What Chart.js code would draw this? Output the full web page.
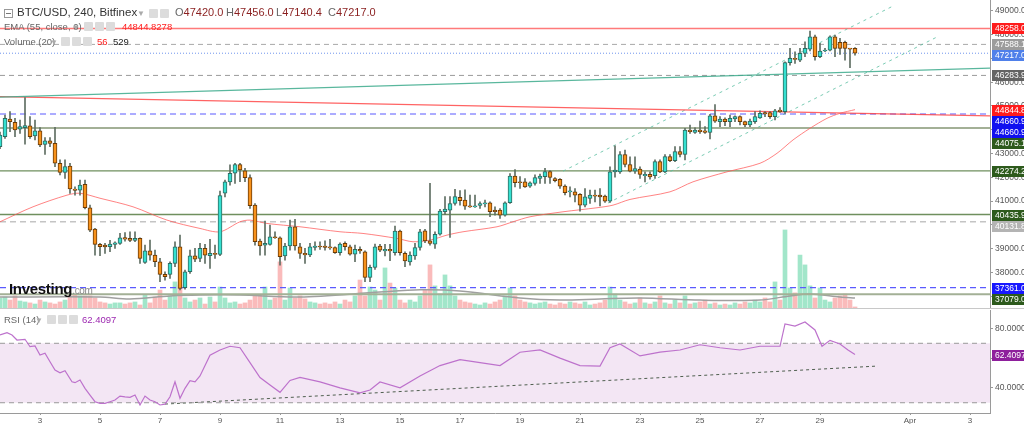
<!DOCTYPE html>
<html>
<head>
<meta charset="utf-8">
<script src="https://cdn.jsdelivr.net/npm/chart.js@4.4.0/dist/chart.umd.min.js"></script>
<style>
  body { margin:0; width:1024px; height:424px; overflow:hidden; background:#fff; position:relative; font-family:"Liberation Sans", Arial, sans-serif; }
  canvas { position:absolute; left:0; }
  #main { top:0; }
  #rsi { top:308px; }
  .ov { position:absolute; white-space:nowrap; line-height:12px; z-index:2; }
  .ico { position:absolute; width:9px; height:9px; background:#dcdcdc; border-radius:1px; z-index:2; }
  .dd { position:absolute; font-size:8px; color:#aaa; z-index:2; }
</style>
</head>
<body>
<canvas id="main" width="1024" height="308"></canvas>
<canvas id="rsi" width="1024" height="116"></canvas>

<!-- header -->
<div class="ov" style="left:4px;top:9px;width:7px;height:7px;border:1px solid #999;"></div>
<div class="ov" style="left:6px;top:13px;width:5px;height:1px;background:#777;"></div>
<div class="ov" style="left:17px;top:6px;font-size:11.5px;color:#333;">BTC/USD, 240, Bitfinex</div>
<div class="dd" style="left:137px;top:9px;">▼</div>
<div class="ico" style="left:149px;top:9px;"></div>
<div class="ico" style="left:160px;top:9px;"></div>
<div class="ov" style="left:175px;top:6px;font-size:11px;"><span style="color:#666">O</span><span style="color:#8a1f1f">47420.0</span></div>
<div class="ov" style="left:226px;top:6px;font-size:11px;"><span style="color:#666">H</span><span style="color:#8a1f1f">47456.0</span></div>
<div class="ov" style="left:276px;top:6px;font-size:11px;"><span style="color:#666">L</span><span style="color:#8a1f1f">47140.4</span></div>
<div class="ov" style="left:328px;top:6px;font-size:11px;"><span style="color:#666">C</span><span style="color:#8a1f1f">47217.0</span></div>

<div class="ov" style="left:4px;top:21px;font-size:9.5px;color:#666;">EMA (55, close, 0)</div>
<div class="dd" style="left:72px;top:23px;">▼</div>
<div class="ico" style="left:84px;top:22px;"></div>
<div class="ico" style="left:95px;top:22px;"></div>
<div class="ico" style="left:106px;top:22px;"></div>
<div class="ov" style="left:122px;top:21px;font-size:9.5px;color:#ff2020;">44844.8278</div>

<div class="ov" style="left:4px;top:36px;font-size:9.5px;color:#666;">Volume (20)</div>
<div class="dd" style="left:50px;top:38px;">▼</div>
<div class="ico" style="left:61px;top:37px;"></div>
<div class="ico" style="left:72px;top:37px;"></div>
<div class="ico" style="left:83px;top:37px;"></div>
<div class="ov" style="left:97px;top:36px;font-size:9.5px;color:#ff2020;">56</div>
<div class="ov" style="left:113px;top:36px;font-size:9.5px;color:#222;">529</div>

<div class="ov" style="left:9px;top:283px;font-size:15px;font-weight:bold;color:#111;letter-spacing:-0.3px;">Investing<span style="font-size:10px;font-weight:normal;color:#888;">.com</span></div>

<div class="ov" style="left:4px;top:314px;font-size:9.5px;color:#666;">RSI (14)</div>
<div class="dd" style="left:35px;top:316px;">▼</div>
<div class="ico" style="left:47px;top:315px;"></div>
<div class="ico" style="left:58px;top:315px;"></div>
<div class="ico" style="left:69px;top:315px;"></div>
<div class="ov" style="left:82px;top:314px;font-size:9.5px;color:#9c27b0;">62.4097</div>

<script>
// BTC/USD 4h candles, first candle Mar 1 16:00
const opens  = [43290,43710,44450,44310,44020,44090,44160,43740,43950,43380,43530,43430,42590,42210,42470,41510,41460,41700,40720,39820,
                39180,39150,39080,39180,39220,39470,39430,39350,39430,38420,38910,38730,38450,37920,37920,38380,39080,37360,38030,38700,
                38590,39010,38700,38800,38760,41330,41810,42170,42540,42270,41990,40830,39320,39150,39180,39500,39460,38690,39110,39920,
                39080,38800,38740,39050,39110,39110,39080,39050,38830,39220,39080,38770,38970,38870,37790,38210,39110,38910,38970,38830,
                39740,38800,38440,38690,39050,39750,39330,39190,39610,40550,40620,40900,41160,41040,40790,40760,40820,40880,40930,40620,
                40620,40410,40930,42050,41810,41810,41630,41740,41950,42030,42240,41950,41910,41630,41390,41390,41280,40830,41110,41250,
                41250,41210,41000,42230,42230,42960,42540,42260,42350,42070,42120,42070,42660,42230,42870,42700,43080,42960,43990,43890,
                43990,43950,43890,44590,44340,44450,44340,44450,44550,44340,44200,44340,44500,44720,44720,44550,44830,44760,46820,47000,
                46930,47210,47390,47910,47070,47310,47350,47910,47680,47680,47420,47420];
const highs  = [43900,44620,44760,44480,44410,45350,44550,44410,44090,43670,43670,44100,42730,42730,42590,41600,41880,41880,40830,39850,
                39220,39220,39350,39290,39640,39680,39710,39710,39460,39150,39360,38940,38590,38030,38450,39290,39570,38100,38940,39010,
                39220,39180,39390,39150,41420,41880,42520,42590,42590,42380,42100,40900,39400,40160,39990,39710,39500,39220,40200,40230,
                39220,39010,39220,39290,39290,39330,39390,39080,39250,39290,39150,39150,39080,38910,38310,39190,39180,39180,39180,39950,
                39780,38870,38870,39220,39810,39810,41750,39710,40650,41190,41190,41490,41440,41470,41250,41250,40970,41040,40970,40760,
                40690,40970,42160,42330,42030,41950,41810,42100,42140,42380,42280,41990,41950,41680,41600,41530,41320,41530,41460,41460,
                41530,41250,42440,43320,43080,43140,42860,42860,42440,42230,42230,42730,42730,42960,42960,43290,43290,44060,44200,44080,
                44360,44130,44650,45060,44550,44500,44620,44590,44590,44360,44450,44760,44790,44760,44760,44860,44930,46860,47420,47280,
                47420,47700,48150,47980,47630,47420,47950,47980,47840,47730,47420,47456];
const lows   = [43200,43640,43920,43710,43850,43390,43640,43570,43290,42960,43290,42450,42100,41950,41320,41250,41250,40670,39710,38730,
                38700,38800,38870,39010,39180,39320,39290,39290,38380,38380,38520,38240,37610,37680,37750,38240,37260,37300,37960,38450,
                38450,38380,38170,38590,38700,41180,41670,41740,41820,41820,40690,39150,38730,38730,39150,39430,38310,38520,38940,38940,
                38590,38380,38660,38940,38970,38940,38970,38800,38730,38940,38730,38450,38800,37610,37610,38130,38870,38690,38490,38730,
                38730,38240,38310,38550,38940,39250,39150,39010,39570,40440,39470,40830,40830,40650,40730,40730,40690,40760,40340,40410,
                40270,40370,40900,41600,41530,41580,41580,41670,41740,41740,41740,41810,41530,41260,41180,40970,40580,40760,40900,40970,
                40800,40940,40940,42010,42160,42440,42230,42160,41950,41810,41920,41950,42200,42200,42660,42660,42860,42730,43850,43850,
                43850,43850,43610,44310,44130,44170,44130,44340,44200,44130,44130,44270,44480,44550,44480,44410,44730,44690,46720,46790,
                46860,47070,47310,46930,47030,47280,47310,47070,47170,46930,46610,47140.4];
const closes = [43780,44480,44340,43990,44130,44170,43710,43950,43360,43530,43430,42590,42210,42450,41510,41450,41670,40720,39780,39180,
                39080,39070,39190,39240,39460,39400,39350,39430,38590,38910,38730,38450,37920,37820,38380,39080,37330,38030,38700,38560,
                39010,38730,38800,38760,41230,41810,42170,42540,42310,41990,40810,39290,39120,39220,39500,39460,38660,39110,39920,39110,
                38800,38740,39080,39110,39070,39050,39030,38830,39190,39080,38770,38970,38900,37790,38210,39080,38940,38970,38910,39740,
                38830,38480,38730,39050,39710,39330,39220,39600,40580,40660,40900,41190,41020,40790,40760,40790,40900,40930,40550,40550,
                40410,40930,42050,41770,41770,41600,41770,41990,42050,42240,42000,41860,41630,41350,41430,41250,40830,41180,41250,41210,
                41180,41000,42230,42300,42960,42540,42260,42370,42120,42120,42020,42660,42230,42870,42700,43080,42960,43990,43920,43990,
                43920,43890,44590,44360,44450,44340,44480,44550,44340,44200,44360,44550,44690,44670,44550,44790,44760,46820,47000,46960,
                47210,47420,47910,47070,47310,47350,47910,47420,47420,47420,47390,47217.0];
const volumes = [530,580,420,640,370, 320,270,210,420,320, 270,210,320,420,640, 690,640,640,640,530,
                 320,270,210,270,270, 210,270,320,160,690, 270,580,950,420,640, 1380,1220,530,320,420,
                 530,210,580,320,1110, 530,270,320,210,270, 420,640,690,1110,420, 530,2440,420,1060,530,
                 640,480,320,270,210, 270,210,320,210,420, 320,640,1480,640,1110, 950,420,2120,1320,1060,
                 420,270,420,320,640, 950,2280,1170,740,1750, 1170,640,420,320,270, 210,160,270,210,320,
                 420,640,1060,640,420, 320,270,210,270,320, 210,160,270,210,320, 270,210,320,160,210,
                 270,420,1110,740,420, 320,210,270,530,270, 210,320,640,270,210, 420,270,640,210,270,
                 320,420,210,270,160, 210,160,270,210,320, 270,420,320,530,320, 1380,420,4130,1060,800,
                 2800,2280,1170,530,1060, 420,320,530,640,740, 420,56];

// Volume MA(20), read at a few candles
const volMaIdx = [0,20,26,34,40,48,60,76,84,92,104,112,120,128,140,152,158,162,168,171];
const volMaVal = [580,580,480,640,690,690,580,850,960,900,530,420,480,530,420,420,640,740,580,529];

// EMA(55)
const emaIdx = [0,6.6,13.4,16,20,26.6,33.4,40,44,48,50,53.4,60,68,72.6,79.4,82.6,86,89.4,92.6,99.4,102.6,106,112.6,119.4,122.6,126,134,138.6,145.4,152,155.4,158.6,162,165.4,168,171];
const emaVal = [40130,40760,41250,41330,41120,40760,40200,39850,39710,40130,40200,40060,39920,39710,39640,39430,39290,39360,39570,39710,39920,40130,40340,40550,40720,40830,41070,41390,41810,42230,42590,43010,43570,44060,44480,44690,44845];

// RSI(14)
const rsiIdx = [0,1.4,2.4,3.4,5,6,7,8,9,10,11,12,13,14.4,15,16,17,18,19,20,21,22,23,24,25,26,27,28,29,30,31,32,33,34,35,36,37,38,39,40,
                42,44,46,48,50,52,54,56,58,60,64,68,72,74,76,80,84,88,92,96,100,104,108,112,116,120,122,124,128,132,136,140,144,148,152,156,157,159,161,163,164.4,166,168,169.6,171];
const rsiVal = [75.6,77.1,75.6,72.2,72.7,67.7,68.2,62.1,63.3,57.6,52,50.2,51.6,44.1,43.5,45.3,39.7,35.2,30.7,29.6,29.6,30.7,31.8,34.5,34,33.6,35.2,28.5,34.5,31.8,30.7,28.5,29.1,34,44.1,33,39.7,44.8,44.1,48,
                62,65.5,68,67,57,47,42,37,45,47,44,40,36.6,38.6,44,40,48,55,59,57,55,64,65.5,60,55,54.7,67,69.5,61.5,64,65.5,69,67,65.5,68,68,83,81.6,84.3,79,68,72,69.5,65.5,62.4097];

// horizontal levels
const levelValues = [48258.0, 47588.1, 47217.0, 46283.9, 44660.9, 44075.1, 42274.2, 40435.9, 40131.8, 37361.0, 37079.0];
const levelColors = ['#ff7a7a','#a8a8a8','#6f95ee','#9a9a9a','#5a5aff','#a3b096','#6f8f5e','#6f8f5e','#c4c4c4','#5a5aff','#a3b096'];
const levelDashes = [[],[5,4],[1,2],[5,4],[6,4],[],[],[],[6,4],[6,4],[]];
const levelWidths = [1.5,1,1,1,1.2,2,1.3,1.3,1.3,1.2,2];

// trend lines: [startIdx, startPrice, endIdx, endPrice]
const tealTrend  = [0, 45370, 198, 46590];
const redTrend   = [0, 45390, 198, 44580];
const chanUpper  = [112.6, 42260, 178.6, 49200];
const chanLower  = [121.6, 40920, 187.4, 47900];
const rsiTrend   = [33, 29.1, 175.6, 54.7];

// right axis markers
const markerValues = [48258.0, 47588.1, 47217.0, 46283.9, 44844.8, 44660.9, 44660.9, 44075.1, 42274.2, 40435.9, 40131.8, 37361.0, 37079.0];
const markerColors = ['#ff1c1c','#9c9c9c','#4f80ea','#636363','#ff1c1c','#1010f0','#1010f0','#2d5a1c','#2d5a1c','#2d5a1c','#b4b4b4','#1818ff','#2d5a1c'];

// axis ticks
const priceTicks = [37000,38000,39000,40000,41000,42000,43000,44000,45000,46000,47000,48000,49000];
const rsiTicks   = [40, 60, 80];
// x ticks: day of March (32 = Apr 1)
const tickDays   = [3,5,7,9,11,13,15,17,19,21,23,25,27,29,32,34];
const tickLabels = ['3','5','7','9','11','13','15','17','19','21','23','25','27','29','Apr','3'];

const X_MIN = 0, X_MAX = 198;
const UP = '#35e0d0', UP_EDGE = '#2d6b62', DOWN = '#f7921c', DOWN_EDGE = '#6b3a06', WICK = '#5f6e63';
const isUp = i => closes[i] >= opens[i];
const tickIdx = tickDays.map(d => ((d - 1) * 24 - 16) / 4);

function seg(s, color, dash, width, axis) {
  return { type: 'line', yAxisID: axis || 'y', data: [{x: s[0], y: s[1]}, {x: s[2], y: s[3]}],
           borderColor: color, borderDash: dash, borderWidth: width, pointRadius: 0, order: 3 };
}

const axisMarkers = {
  id: 'axisMarkers',
  afterDraw(chart, args, opts) {
    const ctx = chart.ctx, scale = chart.scales.y;
    let last = -1e9;
    ctx.save();
    ctx.font = '8.5px "Liberation Sans", Arial, sans-serif';
    ctx.textBaseline = 'middle';
    opts.values.forEach((v, k) => {
      let y = Math.round(scale.getPixelForValue(v));
      if (y < last + 11) y = last + 11;
      last = y;
      ctx.fillStyle = opts.colors[k];
      ctx.fillRect(scale.left + 2, y - 5, chart.width - scale.left - 2, 11);
      ctx.fillStyle = '#fff';
      ctx.fillText(v.toFixed(opts.digits), scale.left + 5, y + 0.5);
    });
    ctx.restore();
  }
};

const axisStyle = {
  position: 'right',
  grid: { drawOnChartArea: false, tickLength: 3, color: '#999' },
  border: { color: '#9a9a9a' },
  afterFit(axis) { axis.width = 34; axis.paddingTop = 0; axis.paddingBottom = 0; }
};
const tickFont = { size: 8.5, family: '"Liberation Sans", Arial, sans-serif' };

const mainDatasets = [
  { type: 'bar', label: 'body', order: 0, grouped: false, barThickness: 4, borderWidth: 1, borderSkipped: false, minBarLength: 1,
    data: opens.map((o, i) => ({x: i, y: [o, closes[i]]})),
    backgroundColor: c => isUp(c.dataIndex) ? UP : DOWN,
    borderColor: c => isUp(c.dataIndex) ? UP_EDGE : DOWN_EDGE },
  { type: 'bar', label: 'wick', order: 1, grouped: false, barThickness: 1, backgroundColor: WICK,
    data: lows.map((l, i) => ({x: i, y: [l, highs[i]]})) },
  { type: 'line', label: 'EMA', order: 2, data: emaIdx.map((x, k) => ({x, y: emaVal[k]})),
    borderColor: 'rgba(255,90,90,0.75)', borderWidth: 1, pointRadius: 0, tension: 0.3 },
  seg(tealTrend, 'rgba(60,170,140,0.85)', [], 1.3),
  seg(redTrend, 'rgba(255,60,60,0.8)', [], 1.3),
  seg(chanUpper, 'rgba(90,190,160,0.8)', [3, 4], 1),
  seg(chanLower, 'rgba(90,190,160,0.8)', [3, 4], 1),
  ...levelValues.map((v, k) => seg([X_MIN, v, X_MAX, v], levelColors[k], levelDashes[k], levelWidths[k])),
  { type: 'line', label: 'volMA', yAxisID: 'yVol', order: 9, data: volMaIdx.map((x, k) => ({x, y: volMaVal[k]})),
    borderColor: '#a0a0a0', borderWidth: 1.5, pointRadius: 0, tension: 0.3 },
  { type: 'bar', label: 'volume', yAxisID: 'yVol', order: 10, grouped: false, barThickness: 4,
    data: volumes.map((v, i) => ({x: i, y: v})),
    backgroundColor: c => isUp(c.dataIndex) ? 'rgba(70,205,150,0.5)' : 'rgba(245,120,120,0.5)' }
];

new Chart(document.getElementById('main'), {
  type: 'bar',
  data: { datasets: mainDatasets },
  options: {
    responsive: false, animation: false, devicePixelRatio: 1,
    layout: { padding: 0, autoPadding: false },
    plugins: { legend: { display: false }, tooltip: { enabled: false },
               axisMarkers: { values: markerValues, colors: markerColors, digits: 1 } },
    scales: {
      x: { type: 'linear', min: X_MIN, max: X_MAX, offset: false, display: false },
      y: { ...axisStyle, min: 36505, max: 49455,
           ticks: { color: '#555', padding: 2, font: tickFont, callback: v => v.toFixed(1) },
           afterBuildTicks(axis) { axis.ticks = priceTicks.map(v => ({ value: v })); } },
      yVol: { display: false, min: 0, max: 16300 }
    }
  },
  plugins: [axisMarkers]
});

const rsiDecor = {
  id: 'rsiDecor',
  beforeDraw(chart) {
    const ctx = chart.ctx;
    ctx.save();
    ctx.fillStyle = '#c8c8c8';
    ctx.fillRect(0, 0, chart.width, 1);
    ctx.restore();
  },
  beforeDatasetsDraw(chart) {
    const ctx = chart.ctx, a = chart.chartArea, s = chart.scales.y;
    const y70 = s.getPixelForValue(70), y30 = s.getPixelForValue(30);
    ctx.save();
    ctx.fillStyle = '#f3e6f4';
    ctx.fillRect(a.left, y70, a.right - a.left, y30 - y70);
    ctx.restore();
  }
};

new Chart(document.getElementById('rsi'), {
  type: 'line',
  data: { datasets: [
    { label: 'RSI', order: 0, data: rsiIdx.map((x, k) => ({x, y: rsiVal[k]})),
      borderColor: '#bd72cc', borderWidth: 1.2, pointRadius: 0, tension: 0 },
    seg([X_MIN, 70, X_MAX, 70], '#9a9a9a', [5, 4], 1),
    seg([X_MIN, 30, X_MAX, 30], '#9a9a9a', [5, 4], 1),
    seg(rsiTrend, '#4f5f4f', [3, 3], 1)
  ] },
  options: {
    responsive: false, animation: false, devicePixelRatio: 1,
    layout: { padding: { top: 2 }, autoPadding: false },
    plugins: { legend: { display: false }, tooltip: { enabled: false },
               axisMarkers: { values: [62.4097], colors: ['#8e1f9c'], digits: 4 } },
    scales: {
      x: { type: 'linear', min: X_MIN, max: X_MAX, offset: false,
           grid: { drawOnChartArea: false, tickLength: 2, color: '#999' },
           border: { color: '#9a9a9a' },
           ticks: { color: '#555', padding: 1, maxRotation: 0, autoSkip: false,
                    font: { size: 8, family: '"Liberation Sans Narrow", "Liberation Sans", Arial, sans-serif' },
                    callback: (v, k) => tickLabels[k] },
           afterBuildTicks(axis) { axis.ticks = tickIdx.map(v => ({ value: v })); },
           afterFit(axis) { axis.height = 11; axis.paddingLeft = 0; axis.paddingRight = 0; } },
      y: { ...axisStyle, min: 23.1, max: 92.4,
           ticks: { color: '#555', padding: 2, font: tickFont, callback: v => v.toFixed(4) },
           afterBuildTicks(axis) { axis.ticks = rsiTicks.map(v => ({ value: v })); } }
    }
  },
  plugins: [axisMarkers, rsiDecor]
});
</script>
</body>
</html>
